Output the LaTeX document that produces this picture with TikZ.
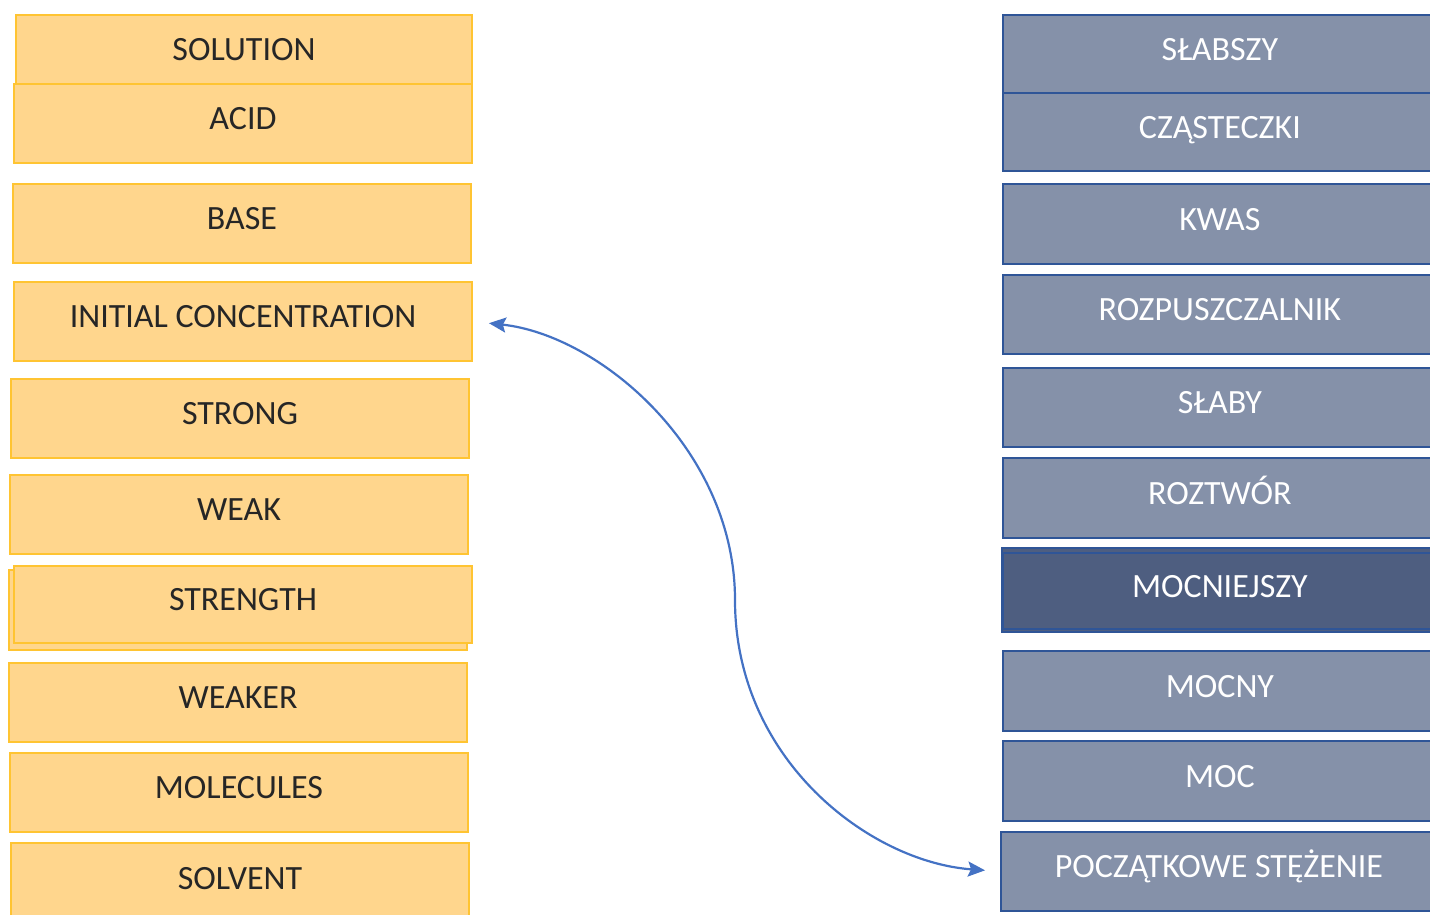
\documentclass[tikz,border=0pt]{standalone}
\usepackage{fontspec}
\setmainfont{Carlito}
\usetikzlibrary{arrows.meta,positioning}
\definecolor{amber}{RGB}{255,214,141}
\definecolor{amberline}{RGB}{255,196,50}
\definecolor{slate}{RGB}{133,145,169}
\definecolor{slatedark}{RGB}{78,94,128}
\definecolor{navy}{RGB}{47,85,151}
\definecolor{linkblue}{RGB}{68,114,196}

\begin{document}
\begin{tikzpicture}[x=1pt,y=-1pt,% pixel-like units, y grows downwards
			every node/.style={
				rectangle,
				anchor=north west,	% boxes are placed by their top left corner
				inner sep=0pt,
				font=\fontsize{34}{40}\selectfont,
				text height=21.5pt, text depth=9pt	% lifts the words a little above the middle
			},
			enbox/.style={fill=amber,draw=amberline,line width=2pt,text=black!85,
				minimum width=458pt,minimum height=79pt},
			plbox/.style={fill=slate,draw=navy,line width=1.8pt,text=white,
				minimum width=434pt,minimum height=79pt},
			link/.style={draw=linkblue,line width=2.2pt,
				{Stealth[length=17pt,width=15pt,inset=3pt]}-{Stealth[length=17pt,width=15pt,inset=3pt]},
				shorten <=16pt,shorten >=15pt}
		]
		\useasboundingbox (0,0) rectangle (1430,915);
		% English words
		\node[enbox,minimum width=456pt](E1) at (15,14) {SOLUTION};
		\node[enbox](E2) at (13,83) {ACID};
		\node[enbox](E3) at (12,183) {BASE};
		\node[enbox](E4) at (13,281) {INITIAL CONCENTRATION};
		\node[enbox](E5) at (10,378) {STRONG};
		\node[enbox](E6) at (9,474) {WEAK};
		\draw[fill=amber,draw=amberline,line width=2pt] (9,570) rectangle (467,650);
		\node[enbox,minimum height=77pt](E7) at (13,565) {STRENGTH};
		\node[enbox](E8) at (8,662) {WEAKER};
		\node[enbox](E9) at (9,752) {MOLECULES};
		\node[enbox,minimum height=80pt](E10) at (10,842) {SOLVENT};
		% Polish words
		\node[plbox,minimum height=78pt](P1) at (1002,14) {SŁABSZY};
		\node[plbox,minimum height=78pt](P2) at (1002,92) {CZĄSTECZKI};
		\node[plbox,minimum height=80pt](P3) at (1002,183) {KWAS};
		\node[plbox](P4) at (1002,274) {ROZPUSZCZALNIK};
		\node[plbox](P5) at (1002,367) {SŁABY};
		\node[plbox,minimum height=80pt](P6) at (1002,457) {ROZTWÓR};
		\draw[fill=slatedark,draw=navy,line width=1.8pt] (1002,548) rectangle (1436,632);
		\node[plbox,fill=slatedark,minimum height=76pt](P7) at (1002,552) {MOCNIEJSZY};
		\node[plbox,minimum height=80pt](P8) at (1002,650) {MOCNY};
		\node[plbox,minimum height=80pt](P9) at (1002,740) {MOC};
		\node[plbox,minimum width=436pt](P10) at (1000,831) {POCZĄTKOWE STĘŻENIE};
		% matching pair
		\coordinate (bend) at (735,600);
		\draw[link] (E4.east) .. controls (600,335) and (735,450) .. (bend)
			.. controls (735,760) and (870,862) .. (P10.west);
	\end{tikzpicture}
\end{document}
